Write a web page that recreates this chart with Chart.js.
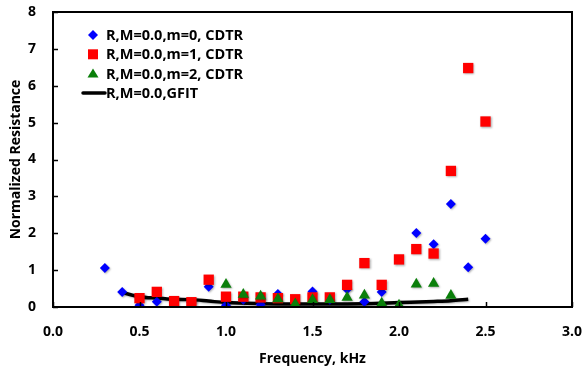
<!DOCTYPE html>
<html>
<head>
<meta charset="utf-8">
<script src="https://cdn.jsdelivr.net/npm/chart.js@4/dist/chart.umd.min.js"></script>
<style>
  html, body { margin: 0; padding: 0; background: #fff; }
  #wrap { width: 582px; height: 368px; }
</style>
</head>
<body>
<div id="wrap"><canvas id="chart" width="582" height="368"></canvas></div>
<script>
// values
const freqM0 = [0.3, 0.4, 0.5, 0.6, 0.7, 0.8, 0.9, 1.0, 1.1, 1.2, 1.3, 1.4, 1.5, 1.6, 1.7, 1.8, 1.9, 2.1, 2.2, 2.3, 2.4, 2.5];
const resM0 = [1.06, 0.41, 0.05, 0.14, 0.02, 0.12, 0.55, 0.05, 0.2, 0.07, 0.35, 0.15, 0.42, 0.2, 0.48, 0.14, 0.41, 2.01, 1.7, 2.79, 1.08, 1.85];

const freqM1 = [0.5, 0.6, 0.7, 0.8, 0.9, 1.0, 1.1, 1.2, 1.3, 1.4, 1.5, 1.6, 1.7, 1.8, 1.9, 2.0, 2.1, 2.2, 2.3, 2.4, 2.5];
const resM1 = [0.24, 0.41, 0.16, 0.13, 0.74, 0.28, 0.28, 0.26, 0.24, 0.21, 0.26, 0.26, 0.6, 1.19, 0.6, 1.29, 1.57, 1.45, 3.69, 6.48, 5.03];

const freqM2 = [1.0, 1.1, 1.2, 1.3, 1.4, 1.5, 1.6, 1.7, 1.8, 1.9, 2.0, 2.1, 2.2, 2.3];
const resM2 = [0.61, 0.34, 0.29, 0.22, 0.08, 0.2, 0.2, 0.26, 0.32, 0.1, 0.05, 0.62, 0.64, 0.31];

const freqFit = [0.4, 0.5, 0.6, 0.7, 0.8, 0.9, 1.0, 1.2, 1.4, 1.6, 1.8, 2.0, 2.2, 2.3, 2.4];
const resFit = [0.39, 0.28, 0.24, 0.21, 0.2, 0.16, 0.12, 0.09, 0.08, 0.08, 0.09, 0.12, 0.15, 0.17, 0.21];

const seriesLabels = ['R,M=0.0,m=0, CDTR', 'R,M=0.0,m=1, CDTR', 'R,M=0.0,m=2, CDTR', 'R,M=0.0,GFIT'];
const xTicks = [0, 0.5, 1, 1.5, 2, 2.5, 3];
const yTicks = [0, 1, 2, 3, 4, 5, 6, 7, 8];

const FONT = '"Open Sans", Lato, sans-serif';
const BLUE = '#0000ff';
const RED = '#ff0000';
const GREEN = '#0a7f0a';

function pts(xs, ys) {
  return xs.map((x, i) => ({ x: x, y: ys[i] }));
}

// frame, inward ticks and legend inside the plot
const framePlugin = {
  id: 'frame',
  beforeDatasetsDraw(chart) {
    const ctx = chart.ctx;
    ctx.save();
    ctx.shadowColor = 'rgba(0,0,0,0.3)';
    ctx.shadowBlur = 2;
    ctx.shadowOffsetX = 1;
    ctx.shadowOffsetY = 1;
  },
  afterDatasetsDraw(chart) {
    chart.ctx.restore();
  },
  afterDraw(chart) {
    const ctx = chart.ctx;
    const a = chart.chartArea;
    const xs = chart.scales.x;
    const ys = chart.scales.y;
    ctx.save();
    ctx.strokeStyle = '#000';
    ctx.lineWidth = 2;
    ctx.strokeRect(a.left, a.top, a.right - a.left, a.bottom - a.top);
    ctx.lineWidth = 1.5;
    ctx.beginPath();
    yTicks.forEach((v) => {
      const y = Math.round(ys.getPixelForValue(v)) + 0.5;
      ctx.moveTo(a.left, y);
      ctx.lineTo(a.left + 5, y);
    });
    xTicks.forEach((v) => {
      const x = Math.round(xs.getPixelForValue(v)) + 0.5;
      ctx.moveTo(x, a.bottom);
      ctx.lineTo(x, a.bottom - 5);
    });
    ctx.stroke();

    // legend
    const lx = 93, ly = 35, step = 19.3;
    ctx.font = 'bold 14.5px ' + FONT;
    ctx.fillStyle = '#000';
    ctx.textBaseline = 'middle';
    ctx.textAlign = 'left';
    seriesLabels.forEach((t, i) => ctx.fillText(t, 106, ly + i * step + 1));

    ctx.fillStyle = BLUE;
    ctx.beginPath();
    ctx.moveTo(lx, ly - 5); ctx.lineTo(lx + 5, ly); ctx.lineTo(lx, ly + 5); ctx.lineTo(lx - 5, ly);
    ctx.closePath(); ctx.fill();

    ctx.fillStyle = RED;
    ctx.fillRect(lx - 5, ly + step - 5, 10, 10);

    ctx.fillStyle = GREEN;
    const ty = ly + 2 * step;
    ctx.beginPath();
    ctx.moveTo(lx, ty - 5); ctx.lineTo(lx + 5.5, ty + 4); ctx.lineTo(lx - 5.5, ty + 4);
    ctx.closePath(); ctx.fill();

    ctx.strokeStyle = '#000';
    ctx.lineWidth = 3.5;
    ctx.lineCap = 'round';
    ctx.beginPath();
    ctx.moveTo(83, ly + 3 * step);
    ctx.lineTo(105, ly + 3 * step);
    ctx.stroke();
    ctx.restore();
  }
};

new Chart(document.getElementById('chart'), {
  type: 'scatter',
  data: {
    datasets: [
      {
        label: seriesLabels[2],
        data: pts(freqM2, resM2),
        pointStyle: 'triangle',
        pointRadius: 6.5,
        backgroundColor: GREEN,
        borderColor: GREEN,
        borderWidth: 0,
        order: 1,
      },
      {
        label: seriesLabels[1],
        data: pts(freqM1, resM1),
        pointStyle: 'rect',
        pointRadius: 7.3,
        backgroundColor: RED,
        borderColor: RED,
        borderWidth: 0,
        order: 2,
      },
      {
        label: seriesLabels[0],
        data: pts(freqM0, resM0),
        pointStyle: 'rectRot',
        pointRadius: 5,
        backgroundColor: BLUE,
        borderColor: BLUE,
        borderWidth: 0,
        order: 3,
      },
      {
        label: seriesLabels[3],
        data: pts(freqFit, resFit),
        showLine: true,
        pointRadius: 0,
        borderColor: '#000',
        borderWidth: 3.5,
        cubicInterpolationMode: 'monotone',
        fill: false,
        order: 4,
      },
    ],
  },
  options: {
    responsive: false,
    animation: false,
    layout: { padding: { left: 0, right: 10, top: 12, bottom: 0 } },
    plugins: {
      legend: { display: false },
      tooltip: { enabled: false },
    },
    scales: {
      x: {
        type: 'linear',
        min: 0,
        max: 3,
        afterBuildTicks: (s) => { s.ticks = xTicks.map((v) => ({ value: v })); },
        afterFit: (s) => { s.height = 61; s.paddingRight = 0; s.paddingLeft = 0; },
        grid: { display: false, drawTicks: false },
        border: { display: false },
        ticks: {
          padding: 17,
          color: '#000',
          font: { family: FONT, size: 14, weight: 'bold' },
          callback: (v) => Number(v).toFixed(1),
        },
        title: {
          display: true,
          text: 'Frequency, kHz',
          color: '#000',
          font: { family: FONT, size: 14, weight: 'bold' },
          padding: { top: 4, bottom: 1 },
        },
      },
      y: {
        type: 'linear',
        min: 0,
        max: 8,
        afterBuildTicks: (s) => { s.ticks = yTicks.map((v) => ({ value: v })); },
        afterFit: (s) => { s.width = 53; s.paddingTop = 0; s.paddingBottom = 0; },
        grid: { display: false, drawTicks: false },
        border: { display: false },
        ticks: {
          padding: 17,
          color: '#000',
          font: { family: FONT, size: 14, weight: 'bold' },
        },
        title: {
          display: true,
          text: 'Normalized Resistance',
          color: '#000',
          font: { family: FONT, size: 14, weight: 'bold' },
          padding: { top: 8, bottom: 0 },
        },
      },
    },
  },
  plugins: [framePlugin],
});
</script>
</body>
</html>
